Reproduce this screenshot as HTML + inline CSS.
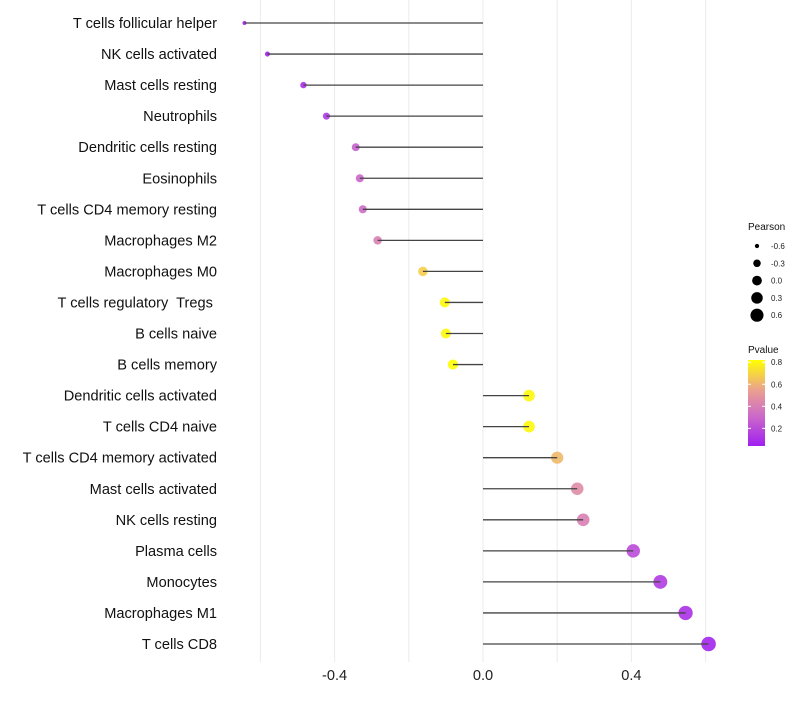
<!DOCTYPE html>
<html><head><meta charset="utf-8"><style>
body{margin:0;background:#fff}
svg text{font-family:"Liberation Sans",sans-serif;white-space:pre}
</style></head><body>
<svg id="chart" width="800" height="700" xmlns="http://www.w3.org/2000/svg">
<defs><linearGradient id="pg" x1="0" y1="1" x2="0" y2="0">
<stop offset="0" stop-color="#a020f0"/><stop offset="0.35" stop-color="#cc6ac8"/><stop offset="0.65" stop-color="#eba090"/><stop offset="1" stop-color="#ffff00"/></linearGradient></defs>
<g id="grid"></g>
<g id="marks"></g>
<g id="labels"></g>
<g id="legend"></g>
</svg>
<script>
const categories=["T cells follicular helper","NK cells activated","Mast cells resting","Neutrophils","Dendritic cells resting","Eosinophils","T cells CD4 memory resting","Macrophages M2","Macrophages M0","T cells regulatory  Tregs ","B cells naive","B cells memory","Dendritic cells activated","T cells CD4 naive","T cells CD4 memory activated","Mast cells activated","NK cells resting","Plasma cells","Monocytes","Macrophages M1","T cells CD8"];
const pearson=[-0.643,-0.581,-0.484,-0.422,-0.343,-0.332,-0.324,-0.284,-0.162,-0.103,-0.100,-0.081,0.124,0.124,0.200,0.254,0.270,0.405,0.478,0.546,0.608];
const pvalue=[0.03,0.05,0.1,0.13,0.28,0.3,0.32,0.4,0.68,0.8,0.8,0.84,0.8,0.8,0.62,0.46,0.4,0.2,0.14,0.1,0.06];
const xTicks=[-0.4,0.0,0.4];
const xTickLabels=["-0.4","0.0","0.4"];
const gridVals=[-0.6,-0.4,-0.2,0,0.2,0.4,0.6];
const legendVals=[-0.6,-0.3,0.0,0.3,0.6];
const legendLabels=["-0.6","-0.3","0.0","0.3","0.6"];
const pTicks=[0.2,0.4,0.6,0.8];

const NS="http://www.w3.org/2000/svg";
const x=v=>483+v*371;
const y=i=>23+i*(621/(categories.length-1));
const r=v=>Math.sqrt(Math.max(2,29.3+39.5*v));
const pMin=0.04,pMax=0.82;
const stops=[[0,[160,32,240]],[0.35,[204,106,200]],[0.65,[235,160,144]],[1,[255,255,0]]];
function col(p){let t=Math.max(0,Math.min(1,(p-pMin)/(pMax-pMin)));for(let k=1;k<stops.length;k++){if(t<=stops[k][0]){const a=stops[k-1],b=stops[k];const f=(t-a[0])/(b[0]-a[0]);return 'rgb('+a[1].map((c,j)=>Math.round(c+(b[1][j]-c)*f)).join(',')+')';}}return 'rgb(255,255,0)';}
function mk(tag,attrs,parent,txt){const e=document.createElementNS(NS,tag);for(const k in attrs)e.setAttribute(k,attrs[k]);if(txt!==undefined)e.textContent=txt;parent.appendChild(e);return e;}
const G=document.getElementById('grid'),M=document.getElementById('marks'),L=document.getElementById('labels'),LG=document.getElementById('legend');
gridVals.forEach(v=>{const e=mk('line',{x1:x(v),x2:x(v),y1:0,y2:662,stroke:'#ebebeb','stroke-width':1},G);

});
xTicks.forEach((v,i)=>{const e=mk('text',{x:x(v),y:680,'text-anchor':'middle','font-size':14.6,fill:'#222'},L,xTickLabels[i]);

});
categories.forEach((c,i)=>{
const t=mk('text',{x:217,y:y(i)+5,'text-anchor':'end','font-size':14.6,fill:'#111'},L,c);


const d=mk('circle',{cx:x(pearson[i]),cy:y(i),r:r(pearson[i]),fill:col(pvalue[i]),'fill-opacity':0.9},M);


const s=mk('line',{x1:x(0),x2:x(pearson[i]),y1:y(i),y2:y(i),stroke:'#444','stroke-width':1.3},M);


});
let e=mk('text',{x:748,y:230,'font-size':10,fill:'#111'},LG,'Pearson');


legendVals.forEach((v,i)=>{const cy=246+i*17.3;
const c=mk('circle',{cx:757,cy:cy,r:r(v)*0.9,fill:'#000'},LG);


const t=mk('text',{x:771,y:cy+3,'font-size':8,fill:'#222'},LG,legendLabels[i]);

});
e=mk('text',{x:748,y:353,'font-size':10,fill:'#111'},LG,'Pvalue');


e=mk('rect',{x:748,y:360,width:17,height:86,fill:'url(#pg)'},LG);


const py=p=>446-(p-pMin)/(pMax-pMin)*86;
pTicks.forEach(p=>{mk('line',{x1:748,x2:751,y1:py(p),y2:py(p),stroke:'#fff'},LG);mk('line',{x1:762,x2:765,y1:py(p),y2:py(p),stroke:'#fff'},LG);
const t=mk('text',{x:771,y:py(p)+3,'font-size':8,fill:'#222'},LG,p.toFixed(1));

});
</script>
</body></html>
